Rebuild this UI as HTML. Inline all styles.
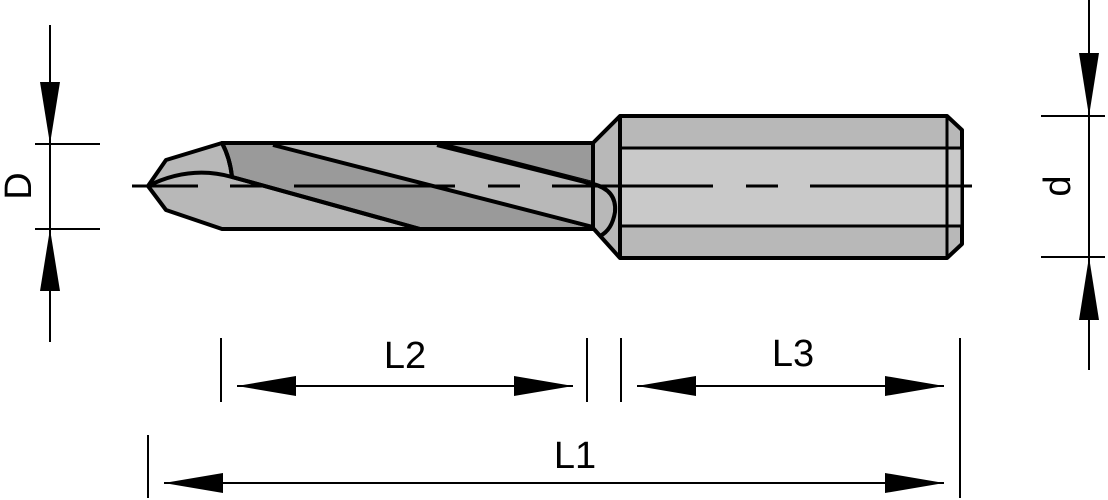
<!DOCTYPE html>
<html><head><meta charset="utf-8"><style>
html,body{margin:0;padding:0;background:#fff;}
svg{display:block;}
text{font-family:"Liberation Sans",sans-serif;fill:#000;}
</style></head><body>
<svg width="1108" height="500" viewBox="0 0 1108 500" xmlns="http://www.w3.org/2000/svg">
<g stroke="#000" stroke-width="4" stroke-linejoin="round">
  <polygon points="593,143 620,116 947,116 962,130 962,244 947,258 620,258 593,228" fill="#b8b8b8"/>
  <rect x="620" y="148" width="342" height="78" fill="#c9c9c9" stroke-width="3"/>
  <line x1="620" y1="116" x2="620" y2="258"/>
  <line x1="947" y1="116" x2="947" y2="258" stroke-width="3"/>
  <polygon points="148,186 166,160 222,143 593,143 593,229 222,229 166,210" fill="#b8b8b8"/>
  <path d="M222,143 L273,143 L593,227 L593,229 L420,229 L232,177 Q230,158 222,143 Z" fill="#9a9a9a"/>
  <path d="M437,143 L593,143 L593,183 Z" fill="#9a9a9a"/>
  <path d="M273,145 L593,227 Q612,230 615,210 Q617,190 598,183 L437,145 Z" fill="#b8b8b8" stroke="none"/>
  <line x1="273" y1="145" x2="593" y2="227"/>
  <line x1="437" y1="145" x2="593" y2="184"/>
  <path d="M593,184 Q617,190 615,212 Q612,230 600,236" fill="none"/>
  <path d="M148,186 Q190,165 232,177" fill="none"/>
  <path d="M222,143 Q230,158 232,177" fill="none"/>
  <line x1="232" y1="177" x2="420" y2="229"/>
  <line x1="593" y1="143" x2="593" y2="229"/>
</g>
<g stroke="#000" stroke-width="3">
  <line x1="132" y1="186" x2="198" y2="186"/>
  <line x1="230" y1="186" x2="262" y2="186"/>
  <line x1="294" y1="186" x2="455" y2="186"/>
  <line x1="488" y1="186" x2="520" y2="186"/>
  <line x1="552" y1="186" x2="713" y2="186"/>
  <line x1="746" y1="186" x2="778" y2="186"/>
  <line x1="810" y1="186" x2="972" y2="186"/>
</g>
<g stroke="#000" stroke-width="2">
  <line x1="50" y1="25" x2="50" y2="342"/>
  <line x1="35" y1="144" x2="100" y2="144"/>
  <line x1="35" y1="229" x2="100" y2="229"/>
  <line x1="1089" y1="0" x2="1089" y2="370"/>
  <line x1="1041" y1="116" x2="1105" y2="116"/>
  <line x1="1041" y1="257" x2="1105" y2="257"/>
  <line x1="221" y1="338" x2="221" y2="402"/>
  <line x1="587" y1="338" x2="587" y2="402"/>
  <line x1="621" y1="338" x2="621" y2="402"/>
  <line x1="960" y1="338" x2="960" y2="498"/>
  <line x1="148" y1="435" x2="148" y2="498"/>
  <line x1="237" y1="386" x2="573" y2="386"/>
  <line x1="637" y1="386" x2="944" y2="386"/>
  <line x1="164" y1="483" x2="944" y2="483"/>
</g>
<g fill="#000">
  <polygon points="40,82 60,82 50,144"/>
  <polygon points="40,291 60,291 50,229"/>
  <polygon points="1079,53 1099,53 1089,116"/>
  <polygon points="1079,320 1099,320 1089,257"/>
  <polygon points="237,386 296,376 296,396"/>
  <polygon points="573,386 514,376 514,396"/>
  <polygon points="637,386 696,376 696,396"/>
  <polygon points="944,386 885,376 885,396"/>
  <polygon points="164,483 223,473 223,493"/>
  <polygon points="944,483 885,473 885,493"/>
</g>
<text x="405" y="368" font-size="38" text-anchor="middle">L2</text>
<text x="793" y="366" font-size="38" text-anchor="middle">L3</text>
<text x="575" y="468" font-size="38" text-anchor="middle">L1</text>
<text transform="translate(31,186) rotate(-90)" font-size="38" text-anchor="middle">D</text>
<text transform="translate(1070,186) rotate(-90)" font-size="38" text-anchor="middle">d</text>
</svg>
</body></html>
